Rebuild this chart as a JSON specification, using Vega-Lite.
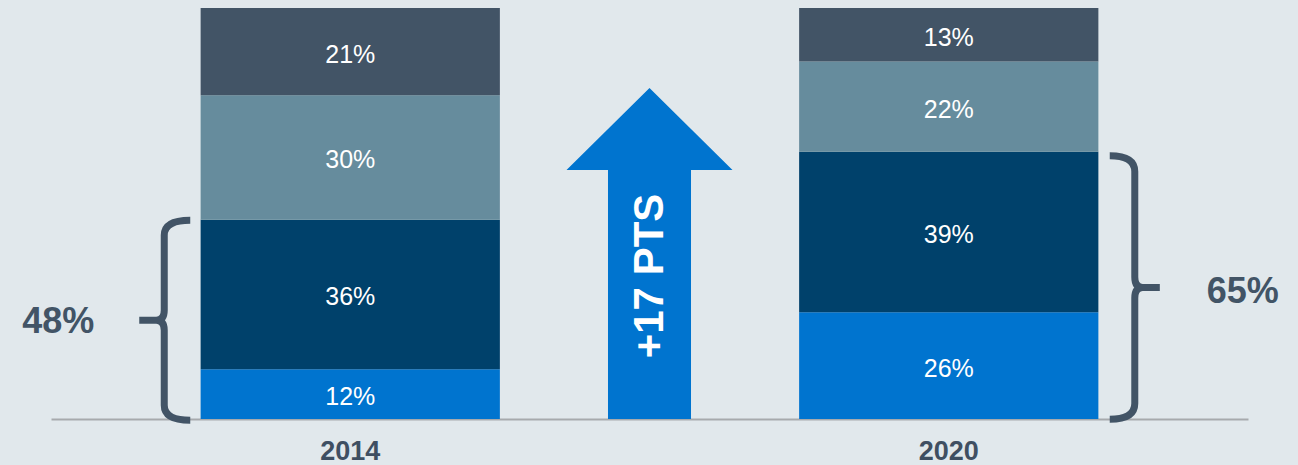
{
  "$schema": "https://vega.github.io/schema/vega-lite/v6.json",
  "width": 1197,
  "height": 411,
  "autosize": {"type": "none"},
  "padding": {"left": 51, "top": 8, "right": 50, "bottom": 46},
  "background": "#e1e8ec",
  "config": {"view": {"stroke": null}, "font": "Liberation Sans"},
  "data": {
    "values": [
      {"year": "2014", "segment": "s1", "value": 12, "label": "12%"},
      {"year": "2014", "segment": "s2", "value": 36, "label": "36%"},
      {"year": "2014", "segment": "s3", "value": 30, "label": "30%"},
      {"year": "2014", "segment": "s4", "value": 21, "label": "21%"},
      {"year": "2020", "segment": "s1", "value": 26, "label": "26%"},
      {"year": "2020", "segment": "s2", "value": 39, "label": "39%"},
      {"year": "2020", "segment": "s3", "value": 22, "label": "22%"},
      {"year": "2020", "segment": "s4", "value": 13, "label": "13%"}
    ]
  },
  "encoding": {
    "x": {
      "field": "year",
      "type": "nominal",
      "scale": {"domain": ["2014", "mid", "2020"], "paddingInner": 0, "paddingOuter": 0.5},
      "axis": {
        "title": null,
        "labelAngle": 0,
        "ticks": false,
        "grid": false,
        "domainColor": "#a7aaad",
        "domainWidth": 2,
        "labelFont": "Liberation Sans",
        "labelFontWeight": "bold",
        "labelFontSize": 27,
        "labelColor": "#3f4f62",
        "labelPadding": 19,
        "labelExpr": "datum.value == 'mid' ? '' : datum.value"
      }
    }
  },
  "layer": [
    {
      "mark": {"type": "bar"},
      "encoding": {
        "y": {"field": "value", "type": "quantitative", "stack": "normalize", "scale": {"domain": [0, 1]}, "axis": null},
        "color": {
          "field": "segment",
          "type": "nominal",
          "scale": {"domain": ["s1", "s2", "s3", "s4"], "range": ["#0074cf", "#00416b", "#668c9d", "#425466"]},
          "legend": null
        },
        "order": {"field": "segment", "sort": "ascending"}
      }
    },
    {
      "mark": {"type": "text", "color": "#ffffff", "fontSize": 25, "font": "Liberation Sans", "baseline": "middle", "align": "center", "dy": 3},
      "encoding": {
        "y": {"field": "value", "type": "quantitative", "stack": "normalize", "bandPosition": 0.5},
        "detail": {"field": "segment", "type": "nominal"},
        "order": {"field": "segment", "sort": "ascending"},
        "text": {"field": "label", "type": "nominal"}
      }
    },
    {
      "data": {"values": [{"change": "+17 PTS"}]},
      "mark": {
        "type": "point",
        "filled": true,
        "opacity": 1,
        "color": "#0074cf",
        "strokeWidth": 0,
        "size": 109561,
        "shape": "M0,-1L0.5015,-0.5045L0.2508,-0.5045L0.2508,1L-0.2508,1L-0.2508,-0.5045L-0.5015,-0.5045Z"
      },
      "encoding": {
        "x": {"datum": "mid", "type": "nominal"},
        "y": {"datum": 0.4027, "type": "quantitative"}
      }
    },
    {
      "data": {"values": [{"change": "+17 PTS"}]},
      "mark": {"type": "text", "angle": 270, "color": "#ffffff", "fontSize": 42, "fontWeight": "bold", "font": "Liberation Sans", "align": "center", "baseline": "middle"},
      "encoding": {
        "x": {"datum": "mid", "type": "nominal"},
        "y": {"datum": 0.348, "type": "quantitative"},
        "text": {"field": "change", "type": "nominal"}
      }
    },
    {
      "data": {"values": [{"year": "2014", "share": "48%"}]},
      "mark": {
        "type": "point",
        "filled": false,
        "opacity": 1,
        "color": "#425466",
        "strokeWidth": 7,
        "strokeCap": "butt",
        "size": 40000,
        "shape": "M-1.6,-1Q-1.86,-1 -1.86,-0.85L-1.86,-0.1Q-1.86,0 -1.94,0L-2.11,0M-1.94,0Q-1.86,0 -1.86,0.1L-1.86,0.85Q-1.86,1 -1.6,1"
      },
      "encoding": {
        "x": {"field": "year", "type": "nominal"},
        "y": {"datum": 0.24, "type": "quantitative"}
      }
    },
    {
      "data": {"values": [{"year": "2014", "share": "48%"}]},
      "mark": {"type": "text", "color": "#425466", "fontSize": 36, "fontWeight": "bold", "font": "Liberation Sans", "align": "center", "baseline": "middle", "dx": -292},
      "encoding": {
        "x": {"field": "year", "type": "nominal"},
        "y": {"datum": 0.235, "type": "quantitative"},
        "text": {"field": "share", "type": "nominal"}
      }
    },
    {
      "data": {"values": [{"year": "2020", "share": "65%"}]},
      "mark": {
        "type": "point",
        "filled": false,
        "opacity": 1,
        "color": "#425466",
        "strokeWidth": 7,
        "strokeCap": "butt",
        "size": 69432,
        "shape": "M1.222,-1Q1.412,-1 1.412,-0.88L1.412,-0.08Q1.412,0 1.472,0L1.602,0M1.472,0Q1.412,0 1.412,0.08L1.412,0.88Q1.412,1 1.222,1"
      },
      "encoding": {
        "x": {"field": "year", "type": "nominal"},
        "y": {"datum": 0.32, "type": "quantitative"}
      }
    },
    {
      "data": {"values": [{"year": "2020", "share": "65%"}]},
      "mark": {"type": "text", "color": "#425466", "fontSize": 36, "fontWeight": "bold", "font": "Liberation Sans", "align": "center", "baseline": "middle", "dx": 294},
      "encoding": {
        "x": {"field": "year", "type": "nominal"},
        "y": {"datum": 0.31, "type": "quantitative"},
        "text": {"field": "share", "type": "nominal"}
      }
    }
  ]
}
